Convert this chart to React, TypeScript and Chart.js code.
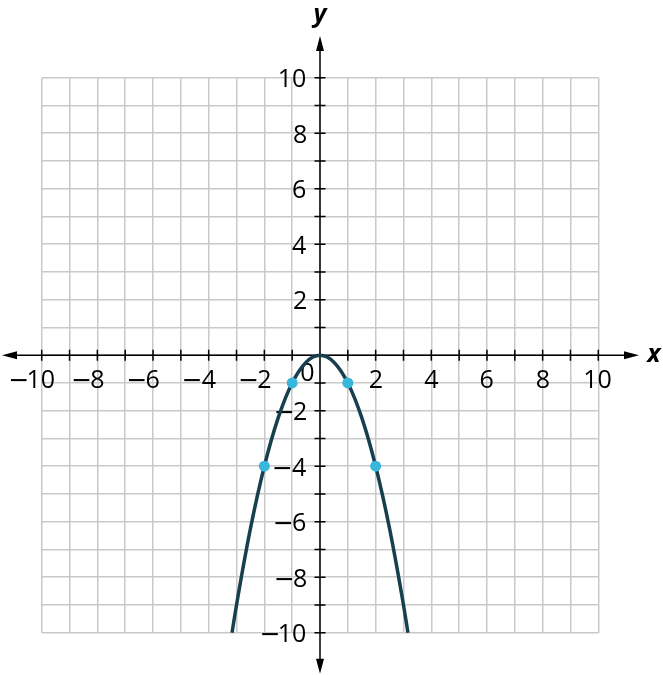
import React, { useEffect, useRef } from "react";
import { Chart, registerables } from "chart.js";

Chart.register(...registerables);

// Parabola (y = -x², drawn between y = -10 and the vertex)
const curveX = [-3.16, -3, -2.5, -2, -1.5, -1, -0.5, 0, 0.5, 1, 1.5, 2, 2.5, 3, 3.16];
const curveY = [-10, -9, -6.25, -4, -2.25, -1, -0.25, 0, -0.25, -1, -2.25, -4, -6.25, -9, -10];

// Highlighted points
const pointX = [-2, -1, 1, 2];
const pointY = [-4, -1, -1, -4];

// Axis range and labelled ticks
const axisMin = -10;
const axisMax = 10;
const xTickLabels = [-10, -8, -6, -4, -2, 2, 4, 6, 8, 10];
const yTickLabels = [10, 8, 6, 4, 2, -2, -4, -6, -8, -10];
const originLabel = "0";
const xAxisTitle = "x";
const yAxisTitle = "y";

const DIGIT_FONT = '25px "Open Sans", "DejaVu Sans", sans-serif';
const MINUS_FONT = '25px "DejaVu Sans", sans-serif';
const TITLE_FONT = 'italic bold 25px "Open Sans", "DejaVu Sans", sans-serif';
const MINUS = "\u2212";

function drawNumber(
  ctx: CanvasRenderingContext2D,
  v: number,
  x: number,
  baseline: number,
  align: "center" | "right"
) {
  const digits = String(Math.abs(v));
  ctx.font = DIGIT_FONT;
  ctx.textAlign = "left";
  const m = ctx.measureText(digits);
  const inkW = m.actualBoundingBoxLeft + m.actualBoundingBoxRight;
  const inkLeft = align === "center" ? x - inkW / 2 : x - inkW;
  ctx.fillText(digits, inkLeft + m.actualBoundingBoxLeft, baseline);
  if (v < 0) {
    ctx.font = MINUS_FONT;
    const mm = ctx.measureText(MINUS);
    const right = inkLeft - 1;
    ctx.fillText(MINUS, right - mm.actualBoundingBoxRight, baseline);
  }
}

const axesPlugin = {
  id: "customAxes",
  beforeDatasetsDraw(chart: any) {
    const ctx = chart.ctx as CanvasRenderingContext2D;
    const xs = chart.scales.x;
    const ys = chart.scales.y;
    const x0 = xs.getPixelForValue(0);
    const y0 = ys.getPixelForValue(0);
    const leftTip = xs.left - 39.7;
    const rightTip = xs.right + 40.7;
    const topTip = ys.top - 41.7;
    const bottomTip = ys.bottom + 41;
    const arrowLen = 15;
    const arrowHalf = 4;

    ctx.save();
    ctx.strokeStyle = "#000";
    ctx.fillStyle = "#000";
    ctx.lineWidth = 1.5;

    // axis lines
    ctx.beginPath();
    ctx.moveTo(leftTip + 4, y0);
    ctx.lineTo(rightTip - 4, y0);
    ctx.moveTo(x0, topTip + 4);
    ctx.lineTo(x0, bottomTip - 4);
    ctx.stroke();

    // arrow heads
    const tri = (a: number[], b: number[], c: number[]) => {
      ctx.beginPath();
      ctx.moveTo(a[0], a[1]);
      ctx.lineTo(b[0], b[1]);
      ctx.lineTo(c[0], c[1]);
      ctx.closePath();
      ctx.fill();
    };
    tri([leftTip, y0], [leftTip + arrowLen, y0 - arrowHalf], [leftTip + arrowLen, y0 + arrowHalf]);
    tri([rightTip, y0], [rightTip - arrowLen, y0 - arrowHalf], [rightTip - arrowLen, y0 + arrowHalf]);
    tri([x0, topTip], [x0 - arrowHalf, topTip + arrowLen], [x0 + arrowHalf, topTip + arrowLen]);
    tri([x0, bottomTip], [x0 - arrowHalf, bottomTip - arrowLen], [x0 + arrowHalf, bottomTip - arrowLen]);

    // tick marks on the axes
    ctx.beginPath();
    xs.ticks.forEach((t: any) => {
      if (t.value === 0) return;
      const px = xs.getPixelForValue(t.value);
      ctx.moveTo(px, y0 - 5.5);
      ctx.lineTo(px, y0 + 5.5);
    });
    ys.ticks.forEach((t: any) => {
      if (t.value === 0) return;
      const py = ys.getPixelForValue(t.value);
      ctx.moveTo(x0 - 5.5, py);
      ctx.lineTo(x0 + 5.5, py);
    });
    ctx.stroke();

    // tick labels
    ctx.textBaseline = "alphabetic";
    ctx.fillStyle = "#000";
    xTickLabels.forEach((v) => {
      drawNumber(ctx, v, xs.getPixelForValue(v), y0 + 33, "center");
    });
    yTickLabels.forEach((v) => {
      drawNumber(ctx, v, x0 - 14, ys.getPixelForValue(v) + 9.5, "right");
    });
    ctx.font = DIGIT_FONT;
    ctx.textAlign = "center";
    ctx.fillText(originLabel, x0 - 12.5, y0 + 26);

    // axis titles
    ctx.font = TITLE_FONT;
    ctx.textAlign = "center";
    ctx.fillText(xAxisTitle, rightTip + 15, y0 + 7);
    ctx.fillText(yAxisTitle, x0, topTip - 14);

    ctx.restore();
  },
};

export default function App() {
  const canvasRef = useRef<HTMLCanvasElement | null>(null);

  useEffect(() => {
    if (!canvasRef.current) return;
    const chart = new Chart(canvasRef.current, {
      type: "scatter",
      data: {
        datasets: [
          {
            label: "points",
            data: pointX.map((x, i) => ({ x, y: pointY[i] })),
            backgroundColor: "#38b6dc",
            borderWidth: 0,
            pointRadius: 5.5,
            pointHoverRadius: 5.5,
            showLine: false,
            order: 0,
            clip: false,
          },
          {
            label: "curve",
            data: curveX.map((x, i) => ({ x, y: curveY[i] })),
            borderColor: "#173f4f",
            borderWidth: 3.5,
            pointRadius: 0,
            showLine: true,
            fill: false,
            cubicInterpolationMode: "monotone",
            order: 1,
            clip: false,
          } as any,
        ],
      },
      options: {
        animation: false,
        responsive: true,
        maintainAspectRatio: false,
        events: [],
        layout: {
          padding: { left: 41.7, right: 64.7, top: 77.7, bottom: 42.3 },
        },
        plugins: {
          legend: { display: false },
          tooltip: { enabled: false },
        },
        scales: {
          x: {
            type: "linear",
            min: axisMin,
            max: axisMax,
            ticks: { stepSize: 1, display: false },
            grid: { color: "#c9c9c9", lineWidth: 1.5, drawTicks: false },
            border: { display: false },
            afterFit: (s: any) => {
              s.height = 0;
            },
          },
          y: {
            type: "linear",
            min: axisMin,
            max: axisMax,
            ticks: { stepSize: 1, display: false },
            grid: { color: "#c9c9c9", lineWidth: 1.5, drawTicks: false },
            border: { display: false },
            afterFit: (s: any) => {
              s.width = 0;
            },
          },
        },
      },
      plugins: [axesPlugin],
    });
    return () => chart.destroy();
  }, []);

  return (
    <div style={{ position: "absolute", left: 0, top: 0, width: 663, height: 675, background: "#fff" }}>
      <canvas ref={canvasRef} />
    </div>
  );
}
